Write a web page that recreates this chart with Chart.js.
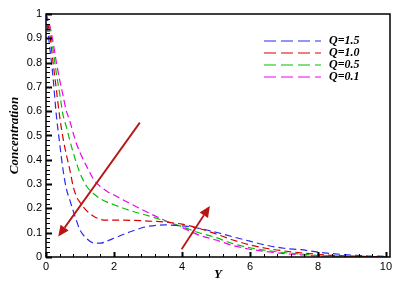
<!DOCTYPE html>
<html>
<head>
<meta charset="utf-8">
<script src="https://cdn.jsdelivr.net/npm/chart.js"></script>
<style>
  body { margin: 0; background: #fff; }
  #box { width: 397px; height: 284px; }
</style>
</head>
<body>
<div id="box"><canvas id="grafico" width="397" height="284"></canvas></div>
<script>
// valores
const ys = [0, 0.1, 0.2, 0.3, 0.4, 0.5, 0.6, 0.7, 0.8, 0.9, 1.0, 1.2, 1.4, 1.6, 1.8, 2.0, 2.5, 3.0, 3.5, 4.0, 4.5, 5.0, 5.5, 6.0, 6.5, 7.0, 7.5, 8.0, 8.5, 9.0, 9.5, 10];
const q15 = [1, 0.875, 0.75, 0.59, 0.47, 0.36, 0.28, 0.235, 0.19, 0.148, 0.111, 0.075, 0.058, 0.057, 0.066, 0.077, 0.105, 0.126, 0.132, 0.128, 0.118, 0.102, 0.083, 0.065, 0.048, 0.036, 0.03, 0.02, 0.013, 0.008, 0.004, 0.003];
const q10 = [1, 0.925, 0.81, 0.695, 0.58, 0.49, 0.42, 0.36, 0.29, 0.248, 0.225, 0.19, 0.168, 0.155, 0.152, 0.152, 0.151, 0.148, 0.144, 0.135, 0.118, 0.095, 0.07, 0.05, 0.035, 0.025, 0.017, 0.011, 0.006, 0.004, 0.002, 0.001];
const q05 = [1, 0.95, 0.86, 0.76, 0.675, 0.585, 0.535, 0.48, 0.43, 0.385, 0.345, 0.29, 0.26, 0.24, 0.226, 0.215, 0.19, 0.17, 0.148, 0.125, 0.1, 0.08, 0.055, 0.038, 0.027, 0.018, 0.012, 0.006, 0.004, 0.003, 0.002, 0.001];
const q01 = [1, 0.96, 0.89, 0.805, 0.73, 0.665, 0.6, 0.56, 0.51, 0.465, 0.43, 0.372, 0.32, 0.29, 0.27, 0.255, 0.218, 0.183, 0.15, 0.122, 0.09, 0.07, 0.047, 0.032, 0.022, 0.014, 0.009, 0.004, 0.003, 0.002, 0.001, 0.001];
const rotulos = ['Q=1.5', 'Q=1.0', 'Q=0.5', 'Q=0.1'];
const cores = ['#2a2af0', '#d80000', '#00c000', '#f000f0'];
const xTicks = [0, 2, 4, 6, 8, 10];
const yTicks = [0, 0.1, 0.2, 0.3, 0.4, 0.5, 0.6, 0.7, 0.8, 0.9, 1];
// setas (coordenadas nos eixos)
const setas = [
  { de: [2.76, 0.553], para: [0.36, 0.084] },
  { de: [3.99, 0.032], para: [4.82, 0.21] }
];

const serie = (v) => ys.map((x, i) => ({ x, y: v[i] }));

// moldura + ticks para dentro
const moldura = {
  id: 'moldura',
  afterDatasetsDraw(chart) {
    const { ctx, chartArea: a, scales } = chart;
    ctx.save();
    ctx.strokeStyle = '#000';
    ctx.lineWidth = 1;
    for (let v = 0; v <= 10.001; v += 0.4) {
      const px = Math.round(scales.x.getPixelForValue(v)) + 0.5;
      const major = Math.abs(v / 2 - Math.round(v / 2)) < 1e-6;
      ctx.lineWidth = major ? 2 : 1;
      ctx.beginPath();
      ctx.moveTo(px, a.bottom);
      ctx.lineTo(px, a.bottom - (major ? 5 : 3));
      ctx.stroke();
    }
    for (let v = 0; v <= 1.0001; v += 0.02) {
      const py = Math.round(scales.y.getPixelForValue(v)) + 0.5;
      const major = Math.abs(v * 10 - Math.round(v * 10)) < 1e-6;
      ctx.lineWidth = major ? 2 : 1;
      ctx.beginPath();
      ctx.moveTo(a.left, py);
      ctx.lineTo(a.left + (major ? 6 : 4), py);
      ctx.stroke();
    }
    ctx.lineWidth = 1.5;
    ctx.strokeRect(a.left, a.top, a.right - a.left, a.bottom - a.top);

    // setas
    ctx.strokeStyle = '#b81414';
    ctx.fillStyle = '#b81414';
    setas.forEach(s => {
      const x0 = scales.x.getPixelForValue(s.de[0]), y0 = scales.y.getPixelForValue(s.de[1]);
      const x1 = scales.x.getPixelForValue(s.para[0]), y1 = scales.y.getPixelForValue(s.para[1]);
      const ang = Math.atan2(y1 - y0, x1 - x0);
      const L = 11, W = 5;
      const bx = x1 - L * Math.cos(ang), by = y1 - L * Math.sin(ang);
      ctx.lineWidth = 1.8;
      ctx.beginPath();
      ctx.moveTo(x0, y0);
      ctx.lineTo(bx, by);
      ctx.stroke();
      ctx.beginPath();
      ctx.moveTo(x1, y1);
      ctx.lineTo(bx + W * Math.sin(ang), by - W * Math.cos(ang));
      ctx.lineTo(bx - W * Math.sin(ang), by + W * Math.cos(ang));
      ctx.closePath();
      ctx.fill();
    });

    // legenda
    ctx.font = 'italic bold 12px "Liberation Serif", serif';
    ctx.textBaseline = 'middle';
    chart.data.datasets.forEach((d, i) => {
      const y = 41 + i * 12;
      ctx.strokeStyle = d.borderColor;
      ctx.lineWidth = 1.2;
      ctx.setLineDash([12, 5]);
      ctx.beginPath();
      ctx.moveTo(264, y);
      ctx.lineTo(321, y);
      ctx.stroke();
      ctx.setLineDash([]);
      ctx.fillStyle = '#000';
      ctx.fillText(d.label, 329, y);
    });
    ctx.restore();
  }
};

new Chart(document.getElementById('grafico'), {
  type: 'line',
  data: {
    datasets: rotulos.map((r, i) => ({
      label: r,
      data: serie([q15, q10, q05, q01][i]),
      borderColor: cores[i],
      borderWidth: 1.2,
      borderDash: [7, 4],
      pointRadius: 0,
      cubicInterpolationMode: 'monotone',
      fill: false
    }))
  },
  options: {
    responsive: false,
    animation: false,
    layout: { padding: { top: 14, right: 7, left: 0, bottom: 0 } },
    plugins: { legend: { display: false }, tooltip: { enabled: false } },
    scales: {
      x: {
        type: 'linear', min: 0, max: 10.12,
        grid: { display: false, drawTicks: false },
        border: { display: false },
        afterBuildTicks: s => { s.ticks = xTicks.map(v => ({ value: v })); },
        afterFit: s => { s.height = 27; },
        ticks: { color: '#000', padding: 3, callback: v => String(v), font: { family: '"Liberation Sans", Arial', size: 11 } },
        title: { display: true, text: 'Y', color: '#000', padding: { top: 0, bottom: 2 },
          font: { family: '"Liberation Serif", serif', style: 'italic', weight: 'bold', size: 13 } }
      },
      y: {
        min: 0, max: 1,
        grid: { display: false, drawTicks: false },
        border: { display: false },
        afterBuildTicks: s => { s.ticks = yTicks.map(v => ({ value: v })); },
        afterFit: s => { s.width = 46; },
        ticks: { color: '#000', padding: 4, callback: v => String(v), font: { family: '"Liberation Sans", Arial', size: 11 } },
        title: { display: true, text: 'Concentration', color: '#000', padding: { top: 7, bottom: 0 },
          font: { family: '"Liberation Serif", serif', style: 'italic', weight: 'bold', size: 13 } }
      }
    }
  },
  plugins: [moldura]
});
</script>
</body>
</html>
